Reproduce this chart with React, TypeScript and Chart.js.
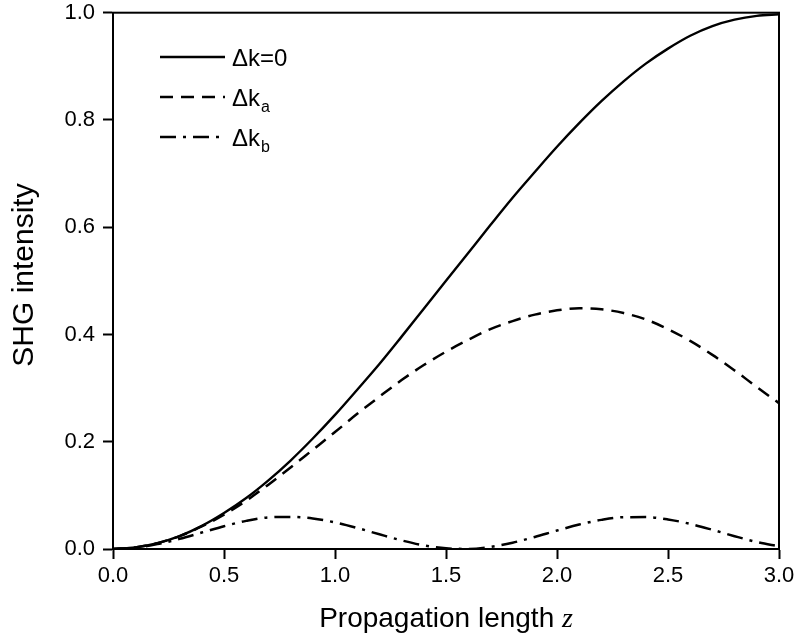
import React, { useEffect, useRef } from "react";
import { Chart, registerables } from "chart.js";

Chart.register(...registerables);

// Propagation length z
const zValues = [
  0.0, 0.1, 0.2, 0.3, 0.4, 0.5, 0.6, 0.7, 0.8, 0.9, 1.0,
  1.1, 1.2, 1.3, 1.4, 1.5, 1.6, 1.7, 1.8, 1.9, 2.0,
  2.1, 2.2, 2.3, 2.4, 2.5, 2.6, 2.7, 2.8, 2.9, 3.0,
];

// Δk = 0 (solid)
const shgDk0 = [
  0.0, 0.003, 0.011, 0.024, 0.043, 0.067, 0.095, 0.128, 0.165, 0.206, 0.25,
  0.297, 0.345, 0.396, 0.448, 0.5, 0.552, 0.604, 0.655, 0.703, 0.75,
  0.794, 0.835, 0.872, 0.905, 0.933, 0.957, 0.975, 0.987, 0.994, 0.997,
];

// Δk_a (dashed)
const shgDkA = [
  0.0, 0.003, 0.011, 0.024, 0.042, 0.064, 0.09, 0.12, 0.152, 0.185, 0.218,
  0.252, 0.284, 0.315, 0.343, 0.368, 0.39, 0.41, 0.425, 0.437, 0.445,
  0.449, 0.447, 0.44, 0.428, 0.41, 0.388, 0.362, 0.333, 0.302, 0.272,
];

// Δk_b (dash-dot)
const shgDkB = [
  0.0, 0.0024, 0.0091, 0.019, 0.0307, 0.0425, 0.0524, 0.059, 0.0599, 0.0569, 0.0496,
  0.0392, 0.0274, 0.016, 0.0067, 0.0012, 0.0002, 0.0039, 0.0118, 0.0225, 0.0344,
  0.0456, 0.0543, 0.0593, 0.0595, 0.0552, 0.0468, 0.0358, 0.0239, 0.013, 0.005,
];

const xTickValues = [0, 0.5, 1.0, 1.5, 2.0, 2.5, 3.0];
const yTickValues = [0, 0.2, 0.4, 0.6, 0.8, 1.0];

const legendEntries = [
  { base: "\u0394k", sub: "", tail: "=0" },
  { base: "\u0394k", sub: "a", tail: "" },
  { base: "\u0394k", sub: "b", tail: "" },
];

const xTitleText = "Propagation length ";
const xTitleVar = "z";
const yTitleText = "SHG intensity";

const SANS = "'Liberation Sans', Arial, Helvetica, sans-serif";
const SERIF = "'Liberation Serif', 'Times New Roman', serif";

const DASHES: number[][] = [[], [13, 8], [16, 7, 3, 7]];
const WIDTHS = [2.4, 2.5, 2.5];

const decorPlugin = {
  id: "decor",
  afterDatasetsDraw(chart: any) {
    const { ctx, chartArea } = chart;
    const { left, right, top, bottom } = chartArea;
    ctx.save();
    // frame
    ctx.strokeStyle = "#000";
    ctx.lineWidth = 2;
    ctx.setLineDash([]);
    ctx.strokeRect(left, top, right - left, bottom - top);

    // legend
    const lx0 = 160;
    const lx1 = 225;
    const tx = 232;
    const rows = [57, 97, 137];
    legendEntries.forEach((e, i) => {
      const y = rows[i];
      ctx.strokeStyle = "#000";
      ctx.lineWidth = WIDTHS[i];
      ctx.setLineDash(DASHES[i]);
      ctx.beginPath();
      ctx.moveTo(lx0, y);
      ctx.lineTo(lx1, y);
      ctx.stroke();
      ctx.setLineDash([]);
      ctx.fillStyle = "#000";
      ctx.textBaseline = "alphabetic";
      ctx.textAlign = "left";
      ctx.font = `24px ${SANS}`;
      const baseY = y + 8.5;
      ctx.fillText(e.base, tx, baseY);
      let x = tx + ctx.measureText(e.base).width;
      if (e.sub) {
        ctx.font = `16px ${SANS}`;
        ctx.fillText(e.sub, x + 1, baseY + 6);
        x += ctx.measureText(e.sub).width + 1;
      }
      if (e.tail) {
        ctx.font = `24px ${SANS}`;
        ctx.fillText(e.tail, x, baseY);
      }
    });

    // x title
    ctx.font = `28px ${SANS}`;
    const w1 = ctx.measureText(xTitleText).width;
    ctx.font = `italic 28px ${SERIF}`;
    const w2 = ctx.measureText(xTitleVar).width;
    const cx = (left + right) / 2;
    const sx = cx - (w1 + w2) / 2;
    ctx.textAlign = "left";
    ctx.textBaseline = "alphabetic";
    ctx.font = `28px ${SANS}`;
    ctx.fillText(xTitleText, sx, 627);
    ctx.font = `italic 28px ${SERIF}`;
    ctx.fillText(xTitleVar, sx + w1, 627);

    // y title
    ctx.save();
    ctx.translate(33, 275);
    ctx.rotate(-Math.PI / 2);
    ctx.font = `30px ${SANS}`;
    ctx.textAlign = "center";
    ctx.textBaseline = "alphabetic";
    ctx.fillText(yTitleText, 0, 0);
    ctx.restore();

    ctx.restore();
  },
};

export default function App() {
  const ref = useRef<HTMLCanvasElement | null>(null);

  useEffect(() => {
    if (!ref.current) return;
    const series = [shgDk0, shgDkA, shgDkB];
    const chart = new Chart(ref.current, {
      type: "line",
      data: {
        datasets: series.map((s, i) => ({
          label: legendEntries[i].base + legendEntries[i].sub + legendEntries[i].tail,
          data: zValues.map((z, j) => ({ x: z, y: s[j] })),
          borderColor: "#000",
          borderWidth: WIDTHS[i],
          borderDash: DASHES[i],
          pointRadius: 0,
          fill: false,
          cubicInterpolationMode: "monotone" as const,
        })),
      },
      options: {
        animation: false,
        responsive: false,
        maintainAspectRatio: false,
        layout: { padding: { left: 0, right: 19, top: 12.7, bottom: 0 } },
        plugins: {
          legend: { display: false },
          tooltip: { enabled: false },
          title: { display: false },
        },
        scales: {
          x: {
            type: "linear",
            min: 0,
            max: 3,
            afterBuildTicks: (s: any) => {
              s.ticks = xTickValues.map((v) => ({ value: v }));
            },
            afterFit: (s: any) => {
              s.height = 91;
              s.paddingLeft = 0;
              s.paddingRight = 0;
            },
            ticks: {
              color: "#000",
              font: { family: SANS, size: 22 },
              padding: 4,
              maxRotation: 0,
              callback: (v: any) => Number(v).toFixed(1),
            },
            grid: {
              drawOnChartArea: false,
              drawTicks: true,
              tickLength: 10,
              tickColor: "#000",
              tickWidth: 2,
            },
            border: { display: true, color: "#000", width: 2 },
          },
          y: {
            type: "linear",
            min: 0,
            max: 1,
            afterBuildTicks: (s: any) => {
              s.ticks = yTickValues.map((v) => ({ value: v }));
            },
            afterFit: (s: any) => {
              s.width = 113;
              s.paddingTop = 0;
              s.paddingBottom = 0;
            },
            ticks: {
              color: "#000",
              font: { family: SANS, size: 22 },
              padding: 8,
              callback: (v: any) => Number(v).toFixed(1),
            },
            grid: {
              drawOnChartArea: false,
              drawTicks: true,
              tickLength: 10,
              tickColor: "#000",
              tickWidth: 2,
            },
            border: { display: true, color: "#000", width: 2 },
          },
        },
      },
      plugins: [decorPlugin],
    });
    return () => chart.destroy();
  }, []);

  return (
    <div style={{ position: "fixed", left: 0, top: 0, width: 798, height: 640, background: "#fff" }}>
      <canvas ref={ref} width={798} height={640} style={{ display: "block", width: 798, height: 640 }} />
    </div>
  );
}
